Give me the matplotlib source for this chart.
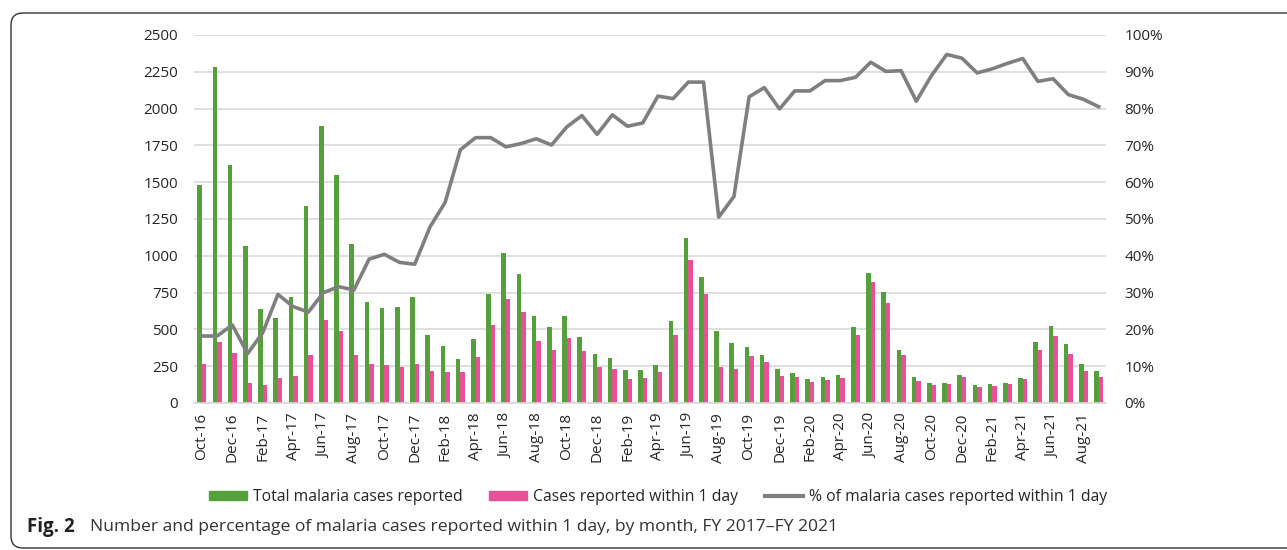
import matplotlib
matplotlib.use("Agg")
import matplotlib.pyplot as plt
import numpy as np
from matplotlib.patches import FancyBboxPatch, Patch
from matplotlib.lines import Line2D
from matplotlib.ticker import PercentFormatter

plt.rcParams['font.family'] = ['Open Sans', 'DejaVu Sans']

# --- data ---
months = ["Oct-16", "Nov-16", "Dec-16", "Jan-17", "Feb-17", "Mar-17", "Apr-17", "May-17",
          "Jun-17", "Jul-17", "Aug-17", "Sep-17", "Oct-17", "Nov-17", "Dec-17", "Jan-18",
          "Feb-18", "Mar-18", "Apr-18", "May-18", "Jun-18", "Jul-18", "Aug-18", "Sep-18",
          "Oct-18", "Nov-18", "Dec-18", "Jan-19", "Feb-19", "Mar-19", "Apr-19", "May-19",
          "Jun-19", "Jul-19", "Aug-19", "Sep-19", "Oct-19", "Nov-19", "Dec-19", "Jan-20",
          "Feb-20", "Mar-20", "Apr-20", "May-20", "Jun-20", "Jul-20", "Aug-20", "Sep-20",
          "Oct-20", "Nov-20", "Dec-20", "Jan-21", "Feb-21", "Mar-21", "Apr-21", "May-21",
          "Jun-21", "Jul-21", "Aug-21", "Sep-21"]

total_cases = [1482, 2284, 1619, 1067, 638, 574, 722, 1340, 1880, 1548, 1078, 688,
               647, 651, 717, 459, 388, 300, 434, 738, 1019, 874, 588, 515,
               590, 449, 331, 304, 222, 227, 259, 556, 1119, 854, 488, 407,
               381, 329, 234, 204, 166, 175, 193, 518, 883, 751, 359, 179,
               136, 138, 188, 123, 129, 134, 173, 411, 520, 404, 263, 220]

within_1day = [268, 413, 338, 138, 123, 168, 184, 329, 563, 488, 329, 266,
               259, 247, 268, 218, 211, 209, 311, 531, 708, 615, 420, 359,
               440, 350, 243, 234, 166, 173, 213, 461, 972, 740, 243, 229,
               316, 279, 186, 175, 141, 154, 168, 459, 820, 677, 325, 150,
               120, 132, 177, 111, 118, 127, 161, 359, 456, 336, 220, 177]

pct_within_1day = [18.2, 18.2, 21.2, 13.4, 19.1, 29.5, 26.2, 24.7, 30.0, 31.6, 30.7, 39.1,
                   40.4, 38.2, 37.7, 47.8, 54.5, 68.8, 72.1, 72.1, 69.6, 70.5, 71.8, 70.1,
                   75.0, 78.1, 73.0, 78.3, 75.2, 76.1, 83.4, 82.7, 87.2, 87.2, 50.5, 56.1,
                   83.2, 85.7, 79.9, 84.8, 84.8, 87.6, 87.6, 88.5, 92.6, 90.1, 90.3, 82.0,
                   89.0, 94.7, 93.7, 89.7, 90.8, 92.3, 93.6, 87.4, 88.1, 83.8, 82.5, 80.5]

GREEN = "#56A03C"
PINK = "#E8519A"
GRAY = "#7F7F7F"
TEXT = "#262626"

fig = plt.figure(figsize=(12.87, 5.5), dpi=100)
ax = fig.add_axes([0.151, 0.2673, 0.7086, 0.6691])

x = np.arange(len(months))
w = 0.3
ax.bar(x - w / 2, total_cases, width=w, color=GREEN, zorder=2)
ax.bar(x + w / 2, within_1day, width=w, color=PINK, zorder=2)

ax.set_xlim(-0.5, len(months) - 0.5)
ax.set_ylim(0, 2500)
ax.set_yticks(np.arange(0, 2501, 250))
ax.grid(axis='y', color="#D9D9D9", linewidth=1.2, zorder=0)
ax.set_axisbelow(True)
for s in ["top", "right", "left"]:
    ax.spines[s].set_visible(False)
ax.spines["bottom"].set_color("#D9D9D9")
ax.spines["bottom"].set_linewidth(1.2)
ax.tick_params(axis='y', length=0, pad=11.5, labelsize=11, labelcolor=TEXT)
ax.set_xticks(x[::2])
ax.set_xticklabels(months[::2], rotation=90, fontsize=11, color=TEXT)
ax.tick_params(axis='x', length=0, pad=7)

ax2 = ax.twinx()
ax2.plot(x, np.array(pct_within_1day) / 100, color=GRAY, linewidth=2.6, zorder=3)
ax2.set_ylim(0, 1)
ax2.set_yticks(np.arange(0, 1.01, 0.1))
ax2.yaxis.set_major_formatter(PercentFormatter(1.0, decimals=0))
ax2.tick_params(axis='y', length=0, pad=13, labelsize=11, labelcolor=TEXT)
for s in ax2.spines.values():
    s.set_visible(False)

handles = [Patch(color=GREEN), Patch(color=PINK), Line2D([], [], color=GRAY, linewidth=3)]
labels = ["Total malaria cases reported", "Cases reported within 1 day",
          "% of malaria cases reported within 1 day"]
fig.legend(handles, labels, loc="center", bbox_to_anchor=(0.511, 0.0964), ncol=3,
           frameon=False, fontsize=11.3, handlelength=2.45, handleheight=0.45,
           handletextpad=0.35, columnspacing=1.7, labelcolor=TEXT)

# caption
fig.text(27 / 1287, 0.041, "Fig. 2", fontsize=13.5, fontweight="bold", va="center", color="#222222")
fig.text(90 / 1287, 0.041,
         "Number and percentage of malaria cases reported within 1 day, by month, FY 2017\u2013FY 2021",
         fontsize=12.6, va="center", color="#333333")

# rounded frame around the figure
frame = FancyBboxPatch((11, 2), 1400, 535, boxstyle="round,pad=0,rounding_size=12",
                       transform=None, fill=False, edgecolor="#333333", linewidth=1)
fig.patches.append(frame)

fig.savefig("out.png", dpi=100)
